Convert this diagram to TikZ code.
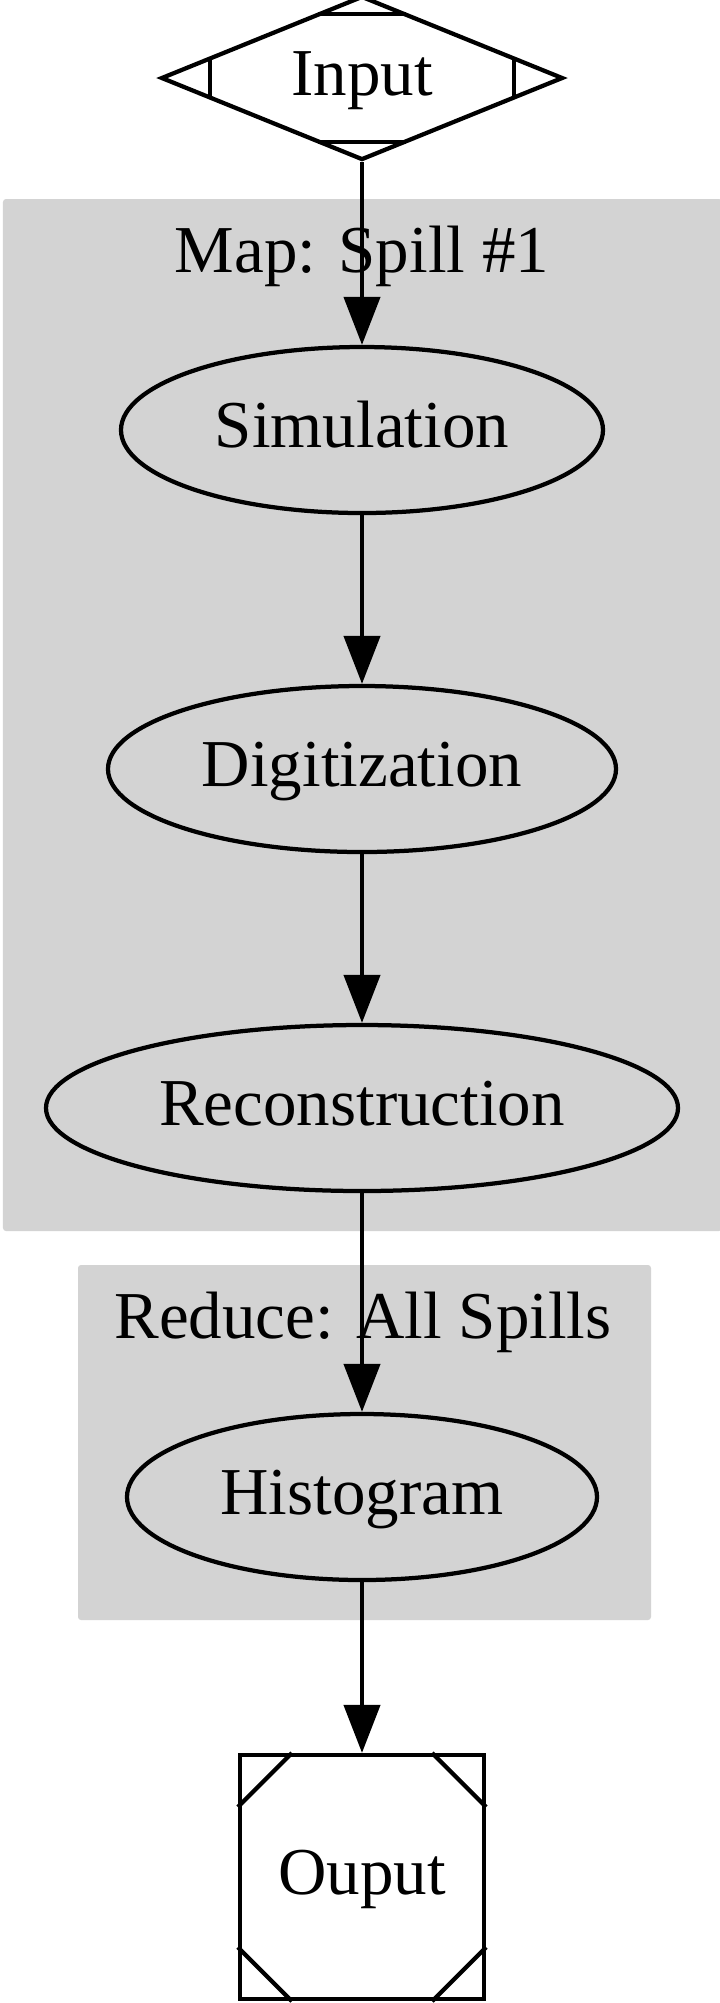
\documentclass[tikz,border=0pt]{standalone}
\usepackage{fontspec}
\setmainfont{Liberation Serif}
\usetikzlibrary{shapes.geometric,arrows.meta,calc}
\definecolor{clustergray}{HTML}{D3D3D3}
\begin{document}
\begin{tikzpicture}[x=0.2pt,y=-0.2pt,
  every node/.style={font=\fontsize{13.4}{16}\selectfont, text height=0.9em, text depth=0.21em, inner sep=0pt, line width=0.85pt},
  stage/.style={draw, ellipse, minimum height=33.2pt},
  edge/.style={line width=0.85pt, -{Triangle[length=9.6pt,width=7.2pt]}},
  deco/.style={line width=0.85pt},
  cluster/.style={fill=clustergray, rounded corners=0.6pt},
  clabel/.style={anchor=base}]
\useasboundingbox (0,0) rectangle (720,2003);

% clusters
\fill[cluster] (3,199) rectangle (722,1231);
\fill[cluster] (78,1265) rectangle (651,1620);
\node[clabel] (maplabel) at (362,272) {Map: Spill \#1};
\node[clabel] (reducelabel) at (363,1338) {Reduce: All Spills};

% input (Mdiamond)
\node[draw, diamond, aspect=2.45, minimum width=80.4pt, minimum height=32.8pt] (input) at (362,78) {Input};
\draw[deco] ($(input.center)+(-44,-64)$) -- ($(input.center)+(44,-64)$);
\draw[deco] ($(input.center)+(-44,64)$) -- ($(input.center)+(44,64)$);
\draw[deco] ($(input.center)+(-152,-20)$) -- ($(input.center)+(-152,20)$);
\draw[deco] ($(input.center)+(152,-20)$) -- ($(input.center)+(152,20)$);

% stages
\node[stage, minimum width=96.4pt] (sim) at (362,430) {Simulation};
\node[stage, minimum width=101.6pt] (dig) at (362,769) {Digitization};
\node[stage, minimum width=126.4pt] (rec) at (362,1108) {Reconstruction};
\node[stage, minimum width=94pt] (hist) at (362,1497) {Histogram};

% output (Msquare)
\node[draw, rectangle, minimum size=48.8pt] (output) at (362,1877) {Ouput};
\draw[deco] ($(output.north west)+(54,0)$) -- ($(output.north west)+(0,54)$);
\draw[deco] ($(output.north east)+(-54,0)$) -- ($(output.north east)+(0,54)$);
\draw[deco] ($(output.south west)+(54,0)$) -- ($(output.south west)+(0,-54)$);
\draw[deco] ($(output.south east)+(-54,0)$) -- ($(output.south east)+(0,-54)$);

% edges
\draw[edge] (input) -- (sim);
\draw[edge] (sim) -- (dig);
\draw[edge] (dig) -- (rec);
\draw[edge] (rec) -- (hist);
\draw[edge] (hist) -- (output);
\end{tikzpicture}
\end{document}
